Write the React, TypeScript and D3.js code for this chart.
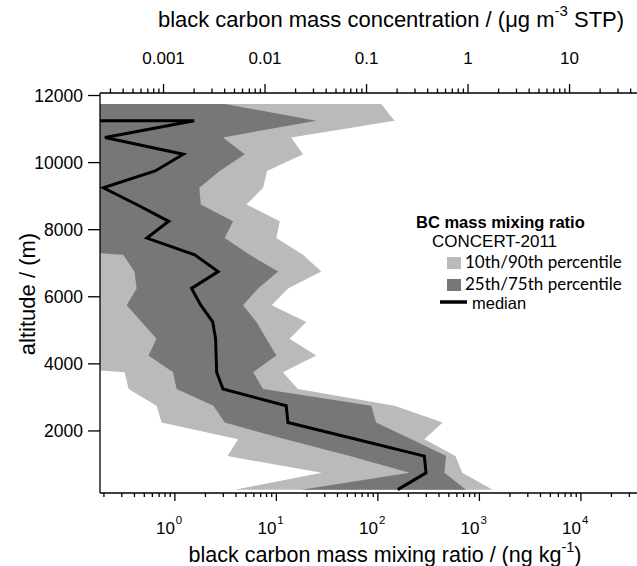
import * as d3 from 'd3';

// altitude bin centres (m), top to bottom
const altitudes = [
  11750, 11250, 10750, 10250, 9750, 9250, 8750, 8250, 7750, 7250, 6750, 6250,
  5750, 5250, 4750, 4250, 3750, 3250, 2750, 2250, 1750, 1250, 750, 250,
];

// BC mass mixing ratio percentiles (ng/kg); 0.001 = below the axis range
const p10 = [
  0.001, 0.001, 0.001, 0.001, 0.001, 0.001, 0.001, 0.001, 0.001, 0.001, 0.001,
  0.001, 0.001, 0.001, 0.001, 0.001, 0.32, 0.35, 0.66, 0.74, 4.2, 3.3, 28, 3.9,
];
const p25 = [
  0.001, 0.001, 0.001, 0.001, 0.001, 0.001, 0.001, 0.001, 0.001, 0.31, 0.4,
  0.42, 0.335, 0.47, 0.66, 0.55, 0.96, 1.04, 2.4, 3.1, 12.3, 53, 205, 17.6,
];
const p75 = [
  3.1, 24.7, 2.98, 4.88, 2.77, 1.74, 1.8, 3.74, 3.1, 5.46, 10.4, 6.6, 4.7,
  6.36, 7.96, 10.0, 5.9, 7.4, 86, 96, 214, 470, 452, 738,
];
const p90 = [
  108, 146, 14.0, 18.3, 8.1, 7.4, 5.07, 10.8, 10.0, 18.3, 27.7, 13.0, 9.0,
  19.7, 13.5, 24.7, 11.6, 16.3, 146, 435, 287, 580, 679, 1349,
];

// median starts off-axis at the 11250 m bin
const medianAlt = [
  11250, 11250, 10750, 10250, 9750, 9250, 8750, 8250, 7750, 7250, 6750, 6250,
  5750, 5250, 4750, 4250, 3750, 3250, 2750, 2250, 1750, 1250, 750, 250,
];
const median = [
  0.05, 1.55, 0.205, 1.21, 0.64, 0.197, 0.42, 0.87, 0.53, 1.57, 2.67, 1.46,
  1.8, 2.36, 2.52, 2.55, 2.58, 2.98, 12.5, 13.0, 61, 287, 298, 157,
];

const altTicks = [2000, 4000, 6000, 8000, 10000, 12000];
const ratioDomain = [0.183, 40000];
const altDomain = [150, 12075];
// ng/kg -> ug/m3 at STP (air density 1.293 kg/m3)
const stpFactor = 1.293e-3;

const legendItems = ['10th/90th percentile', '25th/75th percentile', 'median'];

const LIGHT = '#bababa';
const DARK = '#777777';
const FONT = "'Liberation Sans', Arial, sans-serif";
const LEG_FONT = "Lato, 'Open Sans', sans-serif";

export default function App() {
  const W = 637;
  const H = 566;
  const m = { left: 100, top: 93, right: 642, bottom: 493 };

  const x = d3.scaleLog().domain(ratioDomain).range([m.left, m.right]);
  const xTop = d3
    .scaleLog()
    .domain(ratioDomain.map((d) => d * stpFactor))
    .range([m.left, m.right]);
  const y = d3.scaleLinear().domain(altDomain).range([m.bottom, m.top]);

  const rows = altitudes.map((a, i) => ({
    alt: a,
    p10: p10[i],
    p25: p25[i],
    p75: p75[i],
    p90: p90[i],
  }));

  const area = (lo: string, hi: string) =>
    d3
      .area<any>()
      .y((d) => y(d.alt))
      .x0((d) => x(d[lo]))
      .x1((d) => x(d[hi]));

  const medLine = d3
    .line<number>()
    .x((d) => x(d))
    .y((_, i) => y(medianAlt[i]));

  const isMajor = (v: number) =>
    Math.abs(Math.log10(v) - Math.round(Math.log10(v))) < 1e-6;
  const inRange = (px: number) => px >= m.left && px <= W;

  const bTicks = x.ticks().filter((v) => inRange(x(v)));
  const tTicks = xTop.ticks().filter((v) => inRange(xTop(v)));

  return (
    <svg
      width={W}
      height={H}
      style={{ position: 'absolute', left: 0, top: 0, background: '#fff' }}
      fontFamily={FONT}
    >
      <defs>
        <clipPath id="plot">
          <rect x={m.left} y={m.top} width={m.right - m.left} height={m.bottom - m.top} />
        </clipPath>
      </defs>

      <g clipPath="url(#plot)">
        <path d={area('p10', 'p90')(rows) ?? ''} fill={LIGHT} />
        <path d={area('p25', 'p75')(rows) ?? ''} fill={DARK} />
        <path
          d={medLine(median) ?? ''}
          fill="none"
          stroke="#000"
          strokeWidth={3}
          strokeLinejoin="miter"
        />
      </g>

      {/* left axis */}
      <line x1={m.left} x2={m.left} y1={m.top} y2={m.bottom} stroke="#000" strokeWidth={1.3} />
      {altTicks.map((t) => (
        <g key={t}>
          <line x1={m.left - 12} x2={m.left} y1={y(t)} y2={y(t)} stroke="#000" strokeWidth={1.3} />
          <text x={m.left - 17} y={y(t)} dy="0.36em" textAnchor="end" fontSize={17.5}>
            {t}
          </text>
        </g>
      ))}
      <text
        transform={`translate(35, ${(m.top + m.bottom) / 2 + 1}) rotate(-90)`}
        textAnchor="middle"
        fontSize={22}
      >
        altitude / (m)
      </text>

      {/* bottom axis */}
      <line x1={m.left} x2={W} y1={m.bottom} y2={m.bottom} stroke="#000" strokeWidth={1.3} />
      {bTicks.map((v) => {
        const px = x(v);
        const major = isMajor(v);
        return (
          <g key={v}>
            <line x1={px} x2={px} y1={m.bottom} y2={m.bottom + (major ? 8 : 4)} stroke="#000" strokeWidth={1.3} />
            {major && (
              <text y={534} fontSize={17}>
                <tspan x={px} textAnchor="end">10</tspan>
                <tspan x={px + 1} dy={-10} fontSize={11.5}>
                  {Math.round(Math.log10(v))}
                </tspan>
              </text>
            )}
          </g>
        );
      })}
      <text x={385} y={562} textAnchor="middle" fontSize={21.5}>
        black carbon mass mixing ratio / (ng kg
        <tspan dy={-10} fontSize={14.5}>-1</tspan>
        <tspan dy={10}>)</tspan>
      </text>

      {/* top axis */}
      <line x1={m.left} x2={W} y1={m.top} y2={m.top} stroke="#000" strokeWidth={1.3} />
      {tTicks.map((v) => {
        const px = xTop(v);
        const major = isMajor(v);
        return (
          <g key={v}>
            <line x1={px} x2={px} y1={m.top} y2={m.top - (major ? 9 : 4.5)} stroke="#000" strokeWidth={1.3} />
            {major && (
              <text x={px} y={64} textAnchor="middle" fontSize={17}>
                {d3.format('~g')(v)}
              </text>
            )}
          </g>
        );
      })}
      <text x={391} y={27} textAnchor="middle" fontSize={22}>
        black carbon mass concentration / (μg m
        <tspan dy={-11} fontSize={15}>-3</tspan>
        <tspan dy={11}> STP)</tspan>
      </text>

      {/* legend */}
      <g>
        <text x={416} y={228} fontSize={16.5} fontWeight="bold">
          BC mass mixing ratio
        </text>
        <text x={432} y={247} fontSize={17}>
          CONCERT-2011
        </text>
        <rect x={447} y={257} width={14} height={12} fill={LIGHT} />
        <rect x={447} y={279} width={14} height={12} fill={DARK} />
        <line x1={440} x2={467} y1={302} y2={302} stroke="#000" strokeWidth={3.5} />
        <text x={465} y={268} fontSize={17} fontFamily={LEG_FONT}>
          {legendItems[0]}
        </text>
        <text x={465} y={290} fontSize={17} fontFamily={LEG_FONT}>
          {legendItems[1]}
        </text>
        <text x={472} y={309} fontSize={16.5}>
          {legendItems[2]}
        </text>
      </g>
    </svg>
  );
}
